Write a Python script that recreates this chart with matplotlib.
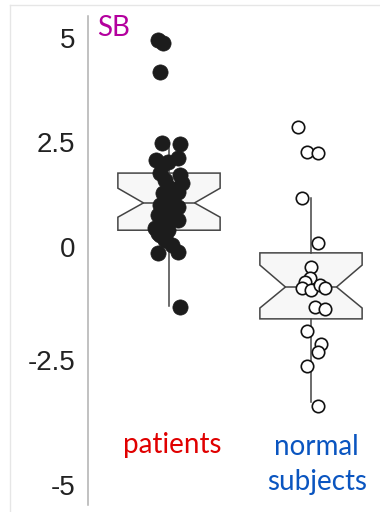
import numpy as np
import matplotlib
matplotlib.use("Agg")
import matplotlib.pyplot as plt
from matplotlib.lines import Line2D

# values
patients = [4.95, 4.88, 4.18, 2.48, 2.45, 2.07, 2.02, 2.12, 1.95, 1.76,
            1.71, 1.52, 1.60, 1.40, 1.29, 1.31, 1.12, 1.20, 1.00, 0.95,
            1.05, 0.88, 0.76, 0.83, 0.64, 0.70, 0.55, 0.45, 0.40, 0.33,
            0.29, 0.24, 0.17, 0.05, -0.13, -0.12, -1.33]
patients_jitter = [-0.08, -0.04, -0.06, -0.05, 0.08, -0.09, -0.01, 0.06, -0.05, -0.06,
                   0.08, 0.09, -0.03, 0.01, -0.04, 0.06, 0.03, -0.02, -0.06, 0.06,
                   0.01, -0.01, -0.08, -0.03, 0.06, 0.01, -0.05, -0.10, -0.01, -0.08,
                   -0.06, -0.03, -0.03, 0.02, -0.08, 0.06, 0.08]
normal = [2.86, 2.26, 2.24, 1.17, 0.10, -0.44, -0.69, -0.77, -0.91, -0.95,
          -0.84, -0.91, -1.33, -1.37, -1.86, -2.15, -2.32, -2.62, -3.42]
normal_jitter = [-0.09, -0.03, 0.05, -0.06, 0.05, 0.0, -0.01, -0.04, -0.06, 0.0,
                 0.06, 0.10, 0.03, 0.10, -0.03, 0.07, 0.05, -0.03, 0.05]

# box statistics (med, q1, q3, notch, whiskers)
patients_box = dict(med=1.05, q1=0.40, q3=1.76, cilo=0.71, cihi=1.40,
                    whislo=-1.30, whishi=2.48)
normal_box = dict(med=-0.885, q1=-1.59, q3=-0.13, cilo=-1.35, cihi=-0.40,
                  whislo=-3.33, whishi=1.17)

groups = ["patients", "normal\nsubjects"]
group_colors = ["#e00000", "#0a55c0"]
tick_values = [5, 2.5, 0, -2.5, -5]
tick_labels = ["5", "2.5", "0", "-2.5", "-5"]

# the value axis of the reference is not evenly spaced: piecewise scale
knot_vals = np.array([-10, -5, -2.5, 0, 2.5, 5, 10])
knot_pos = -np.array([735, 485, 360, 247, 142, 38, -170], dtype=float)


def fwd(v):
    return np.interp(v, knot_vals, knot_pos)


def inv(p):
    return np.interp(p, knot_pos, knot_vals)


fig = plt.figure(figsize=(3.8, 5.12), dpi=100)
ax = fig.add_axes([88 / 380, 7 / 512, 287 / 380, 489 / 512])
ax.set_yscale("function", functions=(fwd, inv))

stats = []
for s in (patients_box, normal_box):
    d = dict(s)
    d["fliers"] = []
    stats.append(d)

edge = "#444444"
ax.bxp(stats, positions=[1, 2], widths=0.72, shownotches=True,
       showcaps=False, showfliers=False, patch_artist=True,
       boxprops=dict(facecolor="#f7f7f7", edgecolor=edge, linewidth=1.1),
       whiskerprops=dict(color=edge, linewidth=1.1),
       medianprops=dict(color=edge, linewidth=1.1))

ax.scatter(1 + np.array(patients_jitter), patients, s=120, color="#1c1c1c",
           edgecolor="#1c1c1c", linewidth=0.5, zorder=3)
ax.scatter(2 + np.array(normal_jitter), normal, s=80, facecolor="white",
           edgecolor="#111111", linewidth=1.2, zorder=3)

ax.set_xlim(1 - 81 / 142, 2 + 64 / 142)
ax.set_ylim(inv(-505), inv(-16))

for sp in ["top", "right", "bottom"]:
    ax.spines[sp].set_visible(False)
ax.spines["left"].set_color("#b0b0b0")
ax.spines["left"].set_linewidth(1.1)
ax.set_xticks([])
ax.set_yticks(tick_values)
ax.set_yticklabels(tick_labels, fontsize=20, family="Liberation Sans", color="#222222")
ax.yaxis.set_minor_locator(matplotlib.ticker.NullLocator())
ax.tick_params(axis="y", length=0, pad=9)

ax.text(1.02, 0.1227, groups[0], transform=ax.get_xaxis_transform(),
        ha="center", va="center", fontsize=20, family="Lato", color=group_colors[0])
ax.text(2.04, 0.083, groups[1], transform=ax.get_xaxis_transform(),
        ha="center", va="center", fontsize=20, family="Lato", color=group_colors[1],
        linespacing=1.45)
ax.text(0.031, 0.975, "SB", transform=ax.transAxes, ha="left", va="center",
        fontsize=20, family="Lato", color="#b4009e")

# faint frame of the original screenshot
fig.add_artist(Line2D([10 / 380, 1], [1 - 5 / 512, 1 - 5 / 512], color="#e6e6e6", lw=1))
fig.add_artist(Line2D([10 / 380, 10 / 380], [0, 1 - 5 / 512], color="#e6e6e6", lw=1))

fig.savefig("out.png", dpi=100)
